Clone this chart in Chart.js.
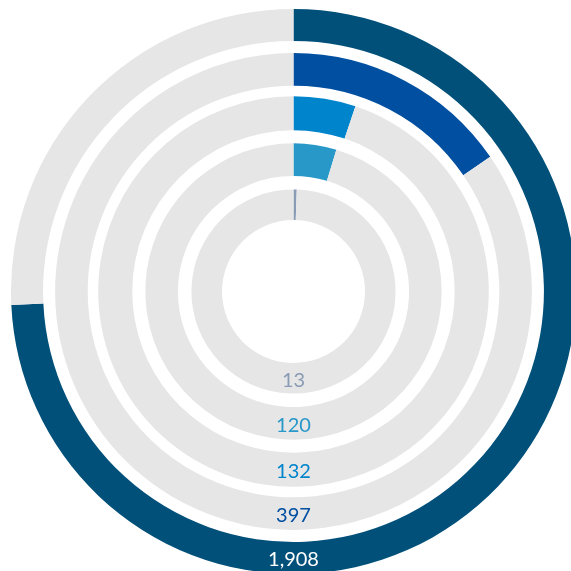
<!DOCTYPE html>
<html lang="en">
<head>
  <meta charset="UTF-8" />
  <title>Radial bars</title>
  <script src="https://cdn.jsdelivr.net/npm/chart.js"></script>
  <style>
    html, body { margin: 0; padding: 0; background: #fff; overflow: hidden; width: 571px; height: 571px; }
    #wrap { position: absolute; left: 11px; top: 9px; width: 565px; height: 565px; }
  </style>
</head>
<body>
  <div id="wrap"><canvas id="rings"></canvas></div>

  <script>
    // rings, outermost first
    const values = [1908, 397, 132, 120, 13];
    const ringColors = ['#00507a', '#004fa1', '#0085cc', '#2898c8', '#8a9bb5'];
    const textColors = ['#ffffff', '#004fa1', '#0085cc', '#2898c8', '#8a9bb5'];

    const total = values.reduce((a, b) => a + b, 0);
    const trackColor = '#e6e6e6';
    const ringWeights = [32, 32.5, 34, 32.5, 30.5];
    const gapWeights = [12, 10.5, 13, 13.5];

    const datasets = [];
    values.forEach((v, i) => {
      datasets.push({
        data: [v, total - v],
        backgroundColor: [ringColors[i], trackColor],
        borderWidth: 0,
        weight: ringWeights[i],
        ringIndex: i
      });
      if (i < gapWeights.length) {
        datasets.push({
          data: [1],
          backgroundColor: 'rgba(0,0,0,0)',
          borderWidth: 0,
          weight: gapWeights[i]
        });
      }
    });

    const ringLabels = {
      id: 'ringLabels',
      afterDatasetsDraw(chart) {
        const ctx = chart.ctx;
        ctx.save();
        ctx.font = '20px Lato';
        ctx.textAlign = 'center';
        ctx.textBaseline = 'alphabetic';
        chart.data.datasets.forEach((ds, di) => {
          if (ds.ringIndex === undefined) return;
          const arc = chart.getDatasetMeta(di).data[0];
          const mid = (arc.innerRadius + arc.outerRadius) / 2;
          ctx.fillStyle = textColors[ds.ringIndex];
          ctx.fillText(values[ds.ringIndex].toLocaleString('en-US'), arc.x, arc.y + mid + 8.5);
        });
        ctx.restore();
      }
    };

    new Chart(document.getElementById('rings'), {
      type: 'doughnut',
      data: { labels: ['value', 'rest'], datasets: datasets },
      options: {
        responsive: true,
        maintainAspectRatio: false,
        animation: false,
        events: [],
        cutout: 71.5,
        layout: { padding: 0 },
        plugins: {
          legend: { display: false },
          tooltip: { enabled: false }
        }
      },
      plugins: [ringLabels]
    });
  </script>
</body>
</html>
